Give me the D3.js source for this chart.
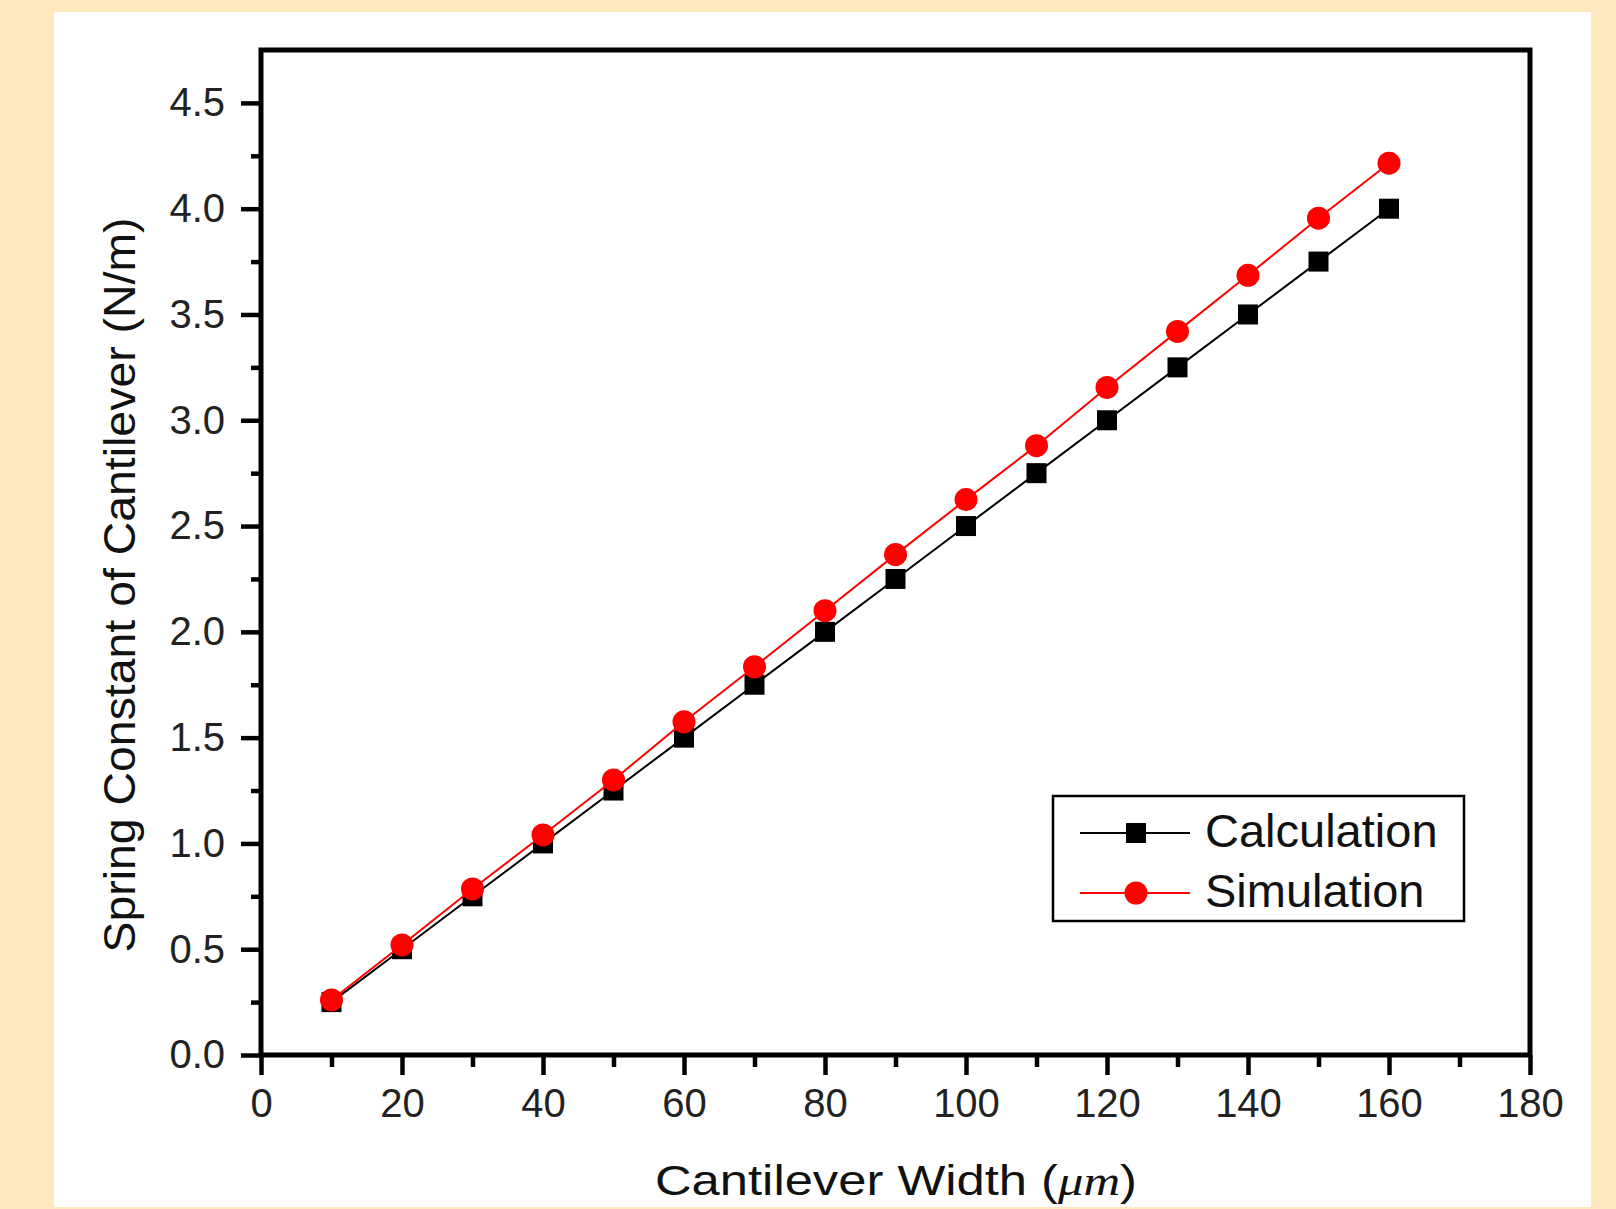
<!DOCTYPE html>
<html>
<head>
<meta charset="utf-8">
<script src="https://d3js.org/d3.v7.min.js"></script>
<style>
  body { margin: 0; background: #ffe8bd; }
  svg { display: block; }
  text { font-family: "Liberation Sans", Arial, sans-serif; }
</style>
</head>
<body>
<div id="chart"></div>
<script>
// data
var widths = [10, 20, 30, 40, 50, 60, 70, 80, 90, 100, 110, 120, 130, 140, 150, 160];
var calculation = [0.25, 0.50, 0.75, 1.00, 1.25, 1.50, 1.75, 2.00, 2.25, 2.50, 2.75, 3.00, 3.25, 3.50, 3.75, 4.00];
var simulation = [0.26, 0.52, 0.785, 1.04, 1.30, 1.575, 1.835, 2.10, 2.365, 2.625, 2.88, 3.155, 3.42, 3.685, 3.955, 4.215];
var seriesNames = ["Calculation", "Simulation"];
var xTicks = [0, 20, 40, 60, 80, 100, 120, 140, 160, 180];
var xMinor = [10, 30, 50, 70, 90, 110, 130, 150, 170];
var yTicks = [0, 0.5, 1.0, 1.5, 2.0, 2.5, 3.0, 3.5, 4.0, 4.5];
var yMinor = [0.25, 0.75, 1.25, 1.75, 2.25, 2.75, 3.25, 3.75, 4.25];

var W = 1616, H = 1209;
var plot = {left: 261, right: 1530, top: 50, bottom: 1055};

var svg = d3.select("#chart")
  .append("svg")
  .attr("width", W)
  .attr("height", H);

// beige page with white panel
svg.append("rect").attr("width", W).attr("height", H).attr("fill", "#ffe8bd");
svg.append("rect")
  .attr("x", 54).attr("y", 12)
  .attr("width", 1591 - 54).attr("height", 1207 - 12)
  .attr("fill", "#ffffff");

var x = d3.scaleLinear().domain([0, 180]).range([plot.left, plot.right]);
var y = d3.scaleLinear().domain([0, 4.75]).range([plot.bottom, plot.top]);

// X axis, major + minor ticks
var xAxis = svg.append("g")
  .attr("transform", "translate(0," + plot.bottom + ")")
  .call(d3.axisBottom(x).tickValues(xTicks).tickSize(20).tickPadding(14).tickFormat(d3.format("d")));
svg.append("g")
  .attr("transform", "translate(0," + plot.bottom + ")")
  .call(d3.axisBottom(x).tickValues(xMinor).tickSize(12).tickFormat(""));

// Y axis, major + minor ticks
var yAxis = svg.append("g")
  .attr("transform", "translate(" + plot.left + ",0)")
  .call(d3.axisLeft(y).tickValues(yTicks).tickSize(20).tickPadding(16).tickFormat(d3.format(".1f")));
svg.append("g")
  .attr("transform", "translate(" + plot.left + ",0)")
  .call(d3.axisLeft(y).tickValues(yMinor).tickSize(10).tickFormat(""));

svg.selectAll(".domain").remove();
svg.selectAll(".tick line").attr("stroke", "#000").attr("stroke-width", 4.5);
svg.selectAll(".tick text")
  .attr("font-family", "Liberation Sans, Arial, sans-serif")
  .attr("font-size", 40)
  .attr("fill", "#222");

// frame
svg.append("rect")
  .attr("x", plot.left).attr("y", plot.top)
  .attr("width", plot.right - plot.left).attr("height", plot.bottom - plot.top)
  .attr("fill", "none")
  .attr("stroke", "#000")
  .attr("stroke-width", 5);

// axis titles
svg.append("text")
  .attr("text-anchor", "middle")
  .attr("x", 896)
  .attr("y", 1195)
  .attr("font-size", 43)
  .attr("fill", "#111")
  .attr("textLength", 482)
  .attr("lengthAdjust", "spacingAndGlyphs")
  .text("Cantilever Width (")
  .append("tspan").attr("font-style", "italic").attr("font-family", "Liberation Serif, serif").text("\u03bcm")
  .select(function() { return this.parentNode; })
  .append("tspan").text(")");

svg.append("text")
  .attr("text-anchor", "middle")
  .attr("transform", "translate(135,585) rotate(-90)")
  .attr("font-size", 44)
  .attr("fill", "#111")
  .attr("textLength", 735)
  .attr("lengthAdjust", "spacingAndGlyphs")
  .text("Spring Constant of Cantilever (N/m)");

var line = d3.line()
  .x(function(d) { return x(d[0]); })
  .y(function(d) { return y(d[1]); });

var calcData = widths.map(function(w, i) { return [w, calculation[i]]; });
var simData = widths.map(function(w, i) { return [w, simulation[i]]; });

// Calculation series (black squares)
svg.append("path")
  .datum(calcData)
  .attr("d", line)
  .attr("fill", "none")
  .attr("stroke", "#000")
  .attr("stroke-width", 2);
svg.selectAll(".sq")
  .data(calcData)
  .enter()
  .append("rect")
  .attr("class", "sq")
  .attr("x", function(d) { return x(d[0]) - 10; })
  .attr("y", function(d) { return y(d[1]) - 10; })
  .attr("width", 20)
  .attr("height", 20)
  .attr("fill", "#000");

// Simulation series (red circles)
svg.append("path")
  .datum(simData)
  .attr("d", line)
  .attr("fill", "none")
  .attr("stroke", "#f00")
  .attr("stroke-width", 2);
svg.selectAll(".dot")
  .data(simData)
  .enter()
  .append("circle")
  .attr("class", "dot")
  .attr("cx", function(d) { return x(d[0]); })
  .attr("cy", function(d) { return y(d[1]); })
  .attr("r", 11.5)
  .attr("fill", "#f00");

// legend
var legend = svg.append("g");
legend.append("rect")
  .attr("x", 1053).attr("y", 796)
  .attr("width", 411).attr("height", 125)
  .attr("fill", "#fff")
  .attr("stroke", "#000")
  .attr("stroke-width", 2.5);

var rows = [833, 893];
var colors = ["#000", "#f00"];
seriesNames.forEach(function(name, i) {
  legend.append("line")
    .attr("x1", 1080).attr("x2", 1190)
    .attr("y1", rows[i]).attr("y2", rows[i])
    .attr("stroke", colors[i])
    .attr("stroke-width", 2);
  if (i == 0) {
    legend.append("rect")
      .attr("x", 1126).attr("y", rows[i] - 10)
      .attr("width", 20).attr("height", 20)
      .attr("fill", "#000");
  } else {
    legend.append("circle")
      .attr("cx", 1136).attr("cy", rows[i])
      .attr("r", 11.5)
      .attr("fill", "#f00");
  }
  legend.append("text")
    .attr("x", 1205)
    .attr("y", rows[i] + 14)
    .attr("font-size", 47)
    .attr("fill", "#111")
    .text(name);
});
</script>
</body>
</html>
